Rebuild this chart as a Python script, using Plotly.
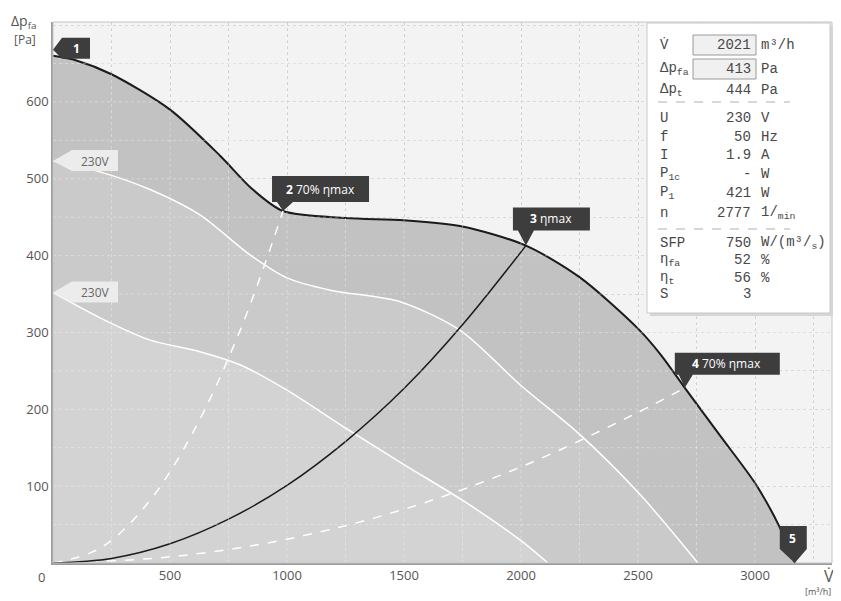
import plotly.graph_objects as go

# ---------------- data ----------------
fan_V = [0, 100, 250, 500, 714, 850, 983, 1250, 1500, 1750, 2021, 2250, 2500, 2600, 2700, 2850, 3000, 3100, 3170]
fan_p = [660, 654, 636, 590, 530, 487, 458, 449, 446, 438, 413, 372, 305, 270, 228, 166, 104, 50, 0]

hi_V = [0, 201, 415, 628, 842, 1000, 1184, 1483, 1739, 1996, 2252, 2509, 2756]
hi_p = [523, 509, 486, 453, 401, 371, 355, 340, 303, 232, 167, 89, 0]

lo_V = [0, 201, 415, 628, 799, 1000, 1248, 1500, 1748, 1996, 2115]
lo_p = [352, 319, 290, 275, 258, 225, 176, 128, 82, 30, 0]

sys_V = [0, 250, 500, 750, 1000, 1250, 1500, 1750, 2021]
sys_p = [0, 6, 25, 57, 101, 158, 227, 310, 413]

d2_V = [0, 200, 400, 600, 800, 983]
d2_p = [0, 19, 76, 171, 303, 458]

d4_V = [0, 500, 1000, 1500, 2000, 2500, 2700]
d4_p = [0, 8, 31, 70, 125, 196, 228]

point_V = [0, 983, 2021, 2700, 3170]
point_p = [660, 458, 413, 228, 0]
point_text = ["<b>1</b>", "<b>2</b> 70% ηmax", "<b>3</b> ηmax", "<b>4</b> 70% ηmax", "<b>5</b>"]

speed_V = [0, 0]
speed_p = [523, 352]
speed_text = ["230V", "230V"]

x_ticks = [500, 1000, 1500, 2000, 2500, 3000]
y_ticks = [100, 200, 300, 400, 500, 600]

box_labels = ["V̇", "Δp<sub>fa</sub>", "Δp<sub>t</sub>", "U", "f", "I", "P<sub>1c</sub>",
              "P<sub>1</sub>", "n", "SFP", "η<sub>fa</sub>", "η<sub>t</sub>", "S"]
box_values = ["2021", "413", "444", "230", "50", "1.9", "-", "421", "2777", "750", "52", "56", "3"]
box_units = ["m³/h", "Pa", "Pa", "V", "Hz", "A", "W", "W", "1/<sub>min</sub>",
             "W/(m³/<sub>s</sub>)", "%", "%", ""]

# ---------------- layout geometry (reference pixels) ----------------
OFF = 8                       # page body margin of the browser
W, H = 841 - OFF, 601 - OFF
L, R, T, B = 53, 832, 22, 563
X_MAX, Y_MAX = 3329, 704


def px(x):
    return (x - L) / (R - L)


def py(y):
    return (B - y) / (B - T)


fig = go.Figure()

fig.add_trace(go.Scatter(x=fan_V, y=fan_p, mode="lines", line=dict(color="#1b1b1b", width=2, shape="spline", smoothing=0.8),
                         fill="tozeroy", fillcolor="#c2c2c2", hoverinfo="skip"))
fig.add_trace(go.Scatter(x=hi_V, y=hi_p, mode="lines", line=dict(color="white", width=1.5, shape="spline", smoothing=0.8),
                         fill="tozeroy", fillcolor="#cacaca", hoverinfo="skip"))
fig.add_trace(go.Scatter(x=lo_V, y=lo_p, mode="lines", line=dict(color="white", width=1.5, shape="spline", smoothing=0.8),
                         fill="tozeroy", fillcolor="#d3d3d3", hoverinfo="skip"))
fig.add_trace(go.Scatter(x=d2_V, y=d2_p, mode="lines", line=dict(color="white", width=1.5, dash="dash", shape="spline"),
                         hoverinfo="skip"))
fig.add_trace(go.Scatter(x=d4_V, y=d4_p, mode="lines", line=dict(color="white", width=1.5, dash="dash", shape="spline"),
                         hoverinfo="skip"))
fig.add_trace(go.Scatter(x=sys_V, y=sys_p, mode="lines", line=dict(color="#1b1b1b", width=1.5, shape="spline"),
                         hoverinfo="skip"))

shapes = []
annotations = []

# faint light grid drawn over the filled areas
gx = 250
while gx < X_MAX:
    shapes.append(dict(type="line", xref="x", yref="paper", x0=gx, x1=gx, y0=0, y1=1,
                       line=dict(color="rgba(255,255,255,0.35)", width=1, dash="dot"), layer="above"))
    gx += 250
gy = 50
while gy < Y_MAX:
    shapes.append(dict(type="line", xref="paper", yref="y", x0=0, x1=1, y0=gy, y1=gy,
                       line=dict(color="rgba(255,255,255,0.35)", width=1, dash="dot"), layer="above"))
    gy += 50

# light frame on top and right
shapes.append(dict(type="rect", xref="paper", yref="paper", x0=0, x1=1, y0=0, y1=1,
                   line=dict(color="#c4c4c4", width=1), layer="above"))

# callout shapes (pixel offsets relative to the data point, y up)
callout_paths = [
    "M0,6 L9,18 L37,18 L37,-3 L9,-3 Z",
    "M0,0 L-6,9 L-11,9 L-11,35 L86,35 L86,9 L10,9 Z",
    "M0,0 L-8,15 L-13,15 L-13,38 L64,38 L64,15 L8,15 Z",
    "M0,0 L-6,13 L-10,13 L-10,35 L95,35 L95,13 L8,13 Z",
    "M0,0 L-15,14 L-15,37 L12,37 L12,14 Z",
]
callout_text_off = [(23, 7), (37, 22), (25, 27), (42, 24), (-2, 25)]
for V, p, path, txt, (dx, dy) in zip(point_V, point_p, callout_paths, point_text, callout_text_off):
    shapes.append(dict(type="path", xref="x", yref="y", xsizemode="pixel", ysizemode="pixel",
                       xanchor=V, yanchor=p, path=path, fillcolor="#3d3d3d", line=dict(width=0)))
    annotations.append(dict(x=V, y=p, xref="x", yref="y", text=txt, showarrow=False,
                            xshift=dx, yshift=dy, font=dict(family="Open Sans", size=12, color="white")))

for V, p, txt in zip(speed_V, speed_p, speed_text):
    shapes.append(dict(type="path", xref="x", yref="y", xsizemode="pixel", ysizemode="pixel",
                       xanchor=V, yanchor=p, path="M0,0 L19,11 L65,11 L65,-10 L19,-10 Z",
                       fillcolor="#ececec", line=dict(width=0)))
    annotations.append(dict(x=V, y=p, xref="x", yref="y", text=txt, showarrow=False,
                            xshift=42, yshift=0, font=dict(family="Open Sans", size=12, color="#666")))

# info box
shapes.append(dict(type="rect", xref="paper", yref="paper", x0=px(650), x1=px(833), y0=py(26), y1=py(316),
                   fillcolor="#d6d6d6", line=dict(width=0), layer="above"))
shapes.append(dict(type="rect", xref="paper", yref="paper", x0=px(647), x1=px(830), y0=py(23), y1=py(313),
                   fillcolor="white", line=dict(color="#c8c8c8", width=1), layer="above"))
for yy in (35, 59):
    shapes.append(dict(type="rect", xref="paper", yref="paper", x0=px(693), x1=px(756), y0=py(yy), y1=py(yy + 20),
                       fillcolor="#f0f0f0", line=dict(color="#9a9a9a", width=1), layer="above"))
for yy in (102, 229):
    shapes.append(dict(type="line", xref="paper", yref="paper", x0=px(658), x1=px(790), y0=py(yy), y1=py(yy),
                       line=dict(color="#b0b0b0", width=1, dash="dash"), layer="above"))

row_y = [45, 69, 90, 118, 137, 155, 174, 193, 213, 243, 260, 278, 294]
bf = dict(family="Liberation Mono", size=14, color="#484848")
for lab, val, unit, yy in zip(box_labels, box_values, box_units, row_y):
    annotations.append(dict(x=px(658), y=py(yy), xref="paper", yref="paper", text=lab, showarrow=False,
                            xanchor="left", yanchor="middle", font=bf))
    annotations.append(dict(x=px(753), y=py(yy), xref="paper", yref="paper", text=val, showarrow=False,
                            xanchor="right", yanchor="middle", font=bf))
    if unit:
        annotations.append(dict(x=px(759), y=py(yy), xref="paper", yref="paper", text=unit, showarrow=False,
                                xanchor="left", yanchor="middle", font=bf))

# axis titles and corner zero
tf = dict(family="Open Sans", size=13, color="#555")
annotations += [
    dict(x=px(9), y=py(9), xref="paper", yref="paper", text="Δp<sub>fa</sub>", showarrow=False,
         xanchor="left", yanchor="top", font=dict(family="Open Sans", size=14, color="#555")),
    dict(x=px(12), y=py(40), xref="paper", yref="paper", text="[Pa]", showarrow=False,
         xanchor="left", yanchor="middle", font=dict(family="Open Sans", size=12, color="#555")),
    dict(x=px(829), y=py(576), xref="paper", yref="paper", text="V̇", showarrow=False,
         xanchor="center", yanchor="middle", font=dict(family="Open Sans", size=16, color="#555")),
    dict(x=px(841 - OFF), y=py(591), xref="paper", yref="paper", text="[m³/h]", showarrow=False,
         xanchor="right", yanchor="middle", font=dict(family="Open Sans", size=9, color="#555")),
    dict(x=px(41), y=py(577), xref="paper", yref="paper", text="0", showarrow=False,
         xanchor="center", yanchor="middle", font=tf),
]

fig.update_layout(
    width=W, height=H,
    margin=dict(l=L - OFF, r=W - (R - OFF), t=T - OFF, b=H - (B - OFF)),
    paper_bgcolor="white", plot_bgcolor="#f3f3f3",
    showlegend=False,
    shapes=shapes, annotations=annotations,
    xaxis=dict(range=[0, X_MAX], tickvals=x_ticks, showgrid=True, gridcolor="#cfcfcf", griddash="dot",
               minor=dict(dtick=250, tick0=0, showgrid=True, gridcolor="#cfcfcf", griddash="dot"),
               showline=True, linecolor="#9a9a9a", linewidth=1.5, zeroline=False,
               tickfont=tf, ticks=""),
    yaxis=dict(range=[0, Y_MAX], tickvals=y_ticks, showgrid=True, gridcolor="#cfcfcf", griddash="dot",
               minor=dict(dtick=50, tick0=0, showgrid=True, gridcolor="#cfcfcf", griddash="dot"),
               showline=True, linecolor="#9a9a9a", linewidth=1.5, zeroline=False,
               tickfont=tf, ticks=""),
)

fig.write_html("out.html")
